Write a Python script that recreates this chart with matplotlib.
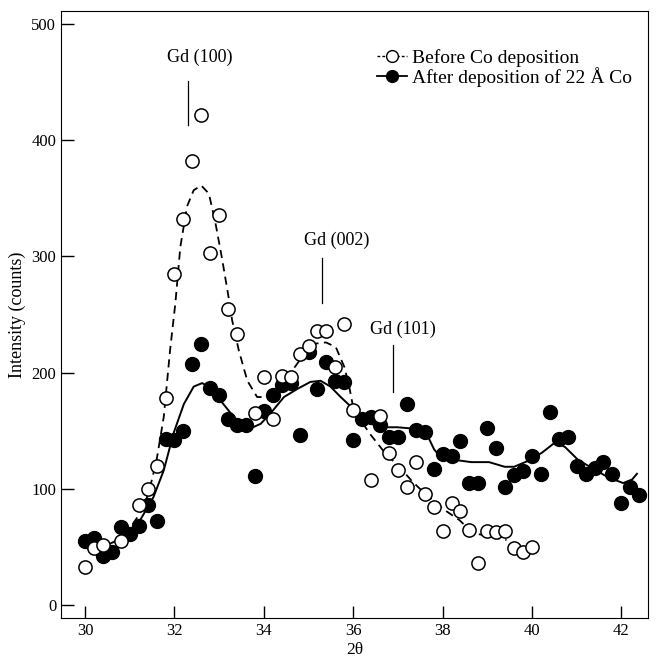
import matplotlib
matplotlib.use('Agg')
import matplotlib.pyplot as plt
from matplotlib.lines import Line2D

plt.rcParams['font.family'] = ['Liberation Serif', 'DejaVu Serif']

# before Co deposition (open circles)
beforeX = [30.0, 30.2, 30.4, 30.8, 31.2, 31.4, 31.6, 31.8, 32.0, 32.2, 32.4, 32.6, 32.8, 33.0,
           33.2, 33.4, 33.8, 34.0, 34.2, 34.4, 34.6, 34.8, 35.0, 35.2, 35.4, 35.6, 35.8, 36.0,
           36.4, 36.6, 36.8, 37.0, 37.2, 37.4, 37.6, 37.8, 38.0, 38.2, 38.4, 38.6, 38.8, 39.0,
           39.2, 39.4, 39.6, 39.8, 40.0]
beforeY = [33, 49, 52, 55, 86, 100, 120, 178, 285, 332, 382, 422, 303, 336,
           255, 233, 165, 196, 160, 197, 196, 216, 223, 236, 236, 205, 242, 168,
           108, 163, 131, 116, 102, 123, 96, 84, 64, 88, 81, 65, 36, 64,
           63, 64, 49, 46, 50]

# after deposition of 22 A Co (filled circles)
afterX = [30.0, 30.2, 30.4, 30.6, 30.8, 31.0, 31.2, 31.4, 31.6, 31.8, 32.0, 32.2, 32.4, 32.6,
          32.8, 33.0, 33.2, 33.4, 33.6, 33.8, 34.0, 34.2, 34.4, 34.6, 34.8, 35.0, 35.2, 35.4,
          35.6, 35.8, 36.0, 36.2, 36.4, 36.6, 36.8, 37.0, 37.2, 37.4, 37.6, 37.8, 38.0, 38.2,
          38.4, 38.6, 38.8, 39.0, 39.2, 39.4, 39.6, 39.8, 40.0, 40.2, 40.4, 40.6, 40.8, 41.0,
          41.2, 41.4, 41.6, 41.8, 42.0, 42.2, 42.4]
afterY = [55, 58, 42, 46, 67, 61, 68, 86, 72, 143, 142, 150, 207, 225,
          187, 181, 160, 155, 155, 111, 167, 181, 189, 191, 146, 218, 186, 209,
          193, 192, 142, 160, 162, 155, 145, 145, 173, 151, 149, 117, 130, 128,
          141, 105, 105, 152, 135, 102, 112, 115, 128, 113, 166, 143, 145, 120,
          113, 118, 123, 113, 88, 102, 95]

# fitted curves
beforeFitX = [30.05, 30.56, 30.93, 31.23, 31.42, 31.6, 31.76, 31.9, 32.02, 32.13, 32.28, 32.43,
              32.6, 32.77, 32.92, 33.06, 33.21, 33.29, 33.44, 33.63, 33.85, 34.07, 34.3, 34.64,
              34.94, 35.16, 35.39, 35.61, 35.8, 35.91, 36.02, 36.17, 36.36, 36.73, 37.03, 37.33,
              37.63, 38.0, 38.38, 38.68, 39.06, 39.43]
beforeFitY = [48, 52, 62, 79, 96, 125, 162, 219, 260, 308, 343, 357,
              361, 354, 328, 299, 265, 245, 219, 193, 179, 179, 185, 202,
              218, 225, 226, 222, 205, 188, 166, 159, 148, 130, 119, 106,
              95, 83, 73, 62, 59, 56]

afterFitX = [30.04, 30.5, 30.93, 31.23, 31.53, 31.76, 31.98, 32.21, 32.43, 32.62, 32.8, 33.03,
             33.26, 33.48, 33.7, 33.93, 34.15, 34.45, 34.75, 35.04, 35.27, 35.49, 35.72, 35.94,
             36.17, 36.39, 36.69, 36.99, 37.29, 37.5, 37.66, 37.81, 37.96, 38.26, 38.64, 39.04,
             39.39, 39.6, 39.91, 40.22, 40.52, 40.74, 41.03, 41.34, 41.7, 42.04, 42.24, 42.35]
afterFitY = [52, 52, 59, 73, 93, 116, 148, 173, 188, 191, 187, 176,
             165, 156, 152, 156, 165, 179, 186, 192, 193, 188, 179, 171,
             162, 156, 153, 153, 152, 150, 146, 134, 127, 125, 123, 123,
             119, 119, 124, 131, 140, 136, 125, 118, 110, 105, 108, 113]

peakLabels = ['Gd (100)', 'Gd (002)', 'Gd (101)']
peakPos = [32.3, 35.31, 36.9]
peakLineLo = [413, 260, 183]
peakLineHi = [451, 299, 224]
peakTextX = [32.57, 35.63, 37.1]
peakTextY = [471, 314, 237]

fig = plt.figure(figsize=(6.56, 6.58), dpi=100)
ax = fig.add_axes([0.093, 0.061, 0.895, 0.922])

ax.plot(beforeFitX, beforeFitY, color='k', lw=1.3, ls=(0, (4.5, 3)))
ax.plot(afterFitX, afterFitY, color='k', lw=1.4)
ax.plot(afterX, afterY, 'o', color='k', ms=10, mec='k', mfc='k')
ax.plot(beforeX, beforeY, 'o', ms=9.5, mec='k', mfc='white', mew=1.1)

for i in range(len(peakLabels)):
    ax.plot([peakPos[i], peakPos[i]], [peakLineLo[i], peakLineHi[i]], color='k', lw=0.9)
    ax.text(peakTextX[i], peakTextY[i], peakLabels[i], ha='center', va='center', fontsize=13)

handles = [Line2D([], [], color='k', ls=(0, (2, 1.5)), lw=1, marker='o', ms=8.5, mfc='white', mec='k'),
           Line2D([], [], color='k', ls='-', lw=1.3, marker='o', ms=8.5, mfc='k', mec='k')]
ax.legend(handles, ['Before Co deposition', 'After deposition of 22 Å Co'],
          loc='upper right', bbox_to_anchor=(0.993, 0.957), frameon=False, fontsize=14,
          handlelength=1.5, handletextpad=0.3, labelspacing=0.0, borderpad=0.1)

ax.set_xlim(29.46, 42.6)
ax.set_ylim(-11, 511)
ax.set_xticks([30, 32, 34, 36, 38, 40, 42])
ax.set_yticks([0, 100, 200, 300, 400, 500])
ax.tick_params(direction='in', length=9, width=1, labelsize=12, top=False, right=False)
ax.set_xlabel('2θ', fontsize=12.5)
ax.set_ylabel('Intensity (counts)', fontsize=13)
ax.xaxis.set_label_coords(0.5, -0.04)
ax.yaxis.set_label_coords(-0.06, 0.5)

fig.savefig('out.png', dpi=100)
